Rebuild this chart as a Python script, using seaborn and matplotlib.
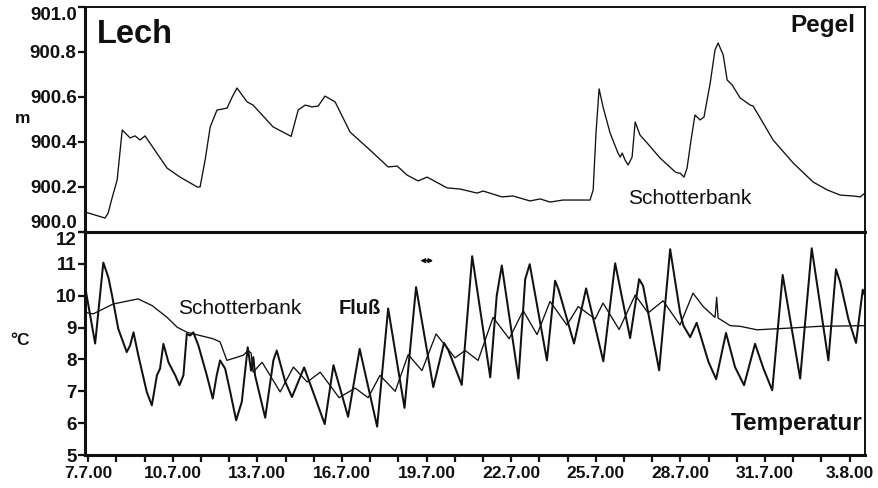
import numpy as np
import pandas as pd
import matplotlib
matplotlib.use("Agg")
import matplotlib.pyplot as plt
import seaborn as sns

# ---------------- data (x = days since 7.7.2000) ----------------
pegel_day = [-0.11, 0.60, 0.71, 0.85, 1.03, 1.21, 1.49, 1.67, 1.84, 2.02, 2.80, 3.26,
             3.87, 3.97, 4.15, 4.33, 4.57, 4.79, 4.93, 5.11, 5.28, 5.64, 5.85, 6.56,
             7.20, 7.45, 7.70, 7.94, 8.16, 8.40, 8.76, 9.29, 10.00, 10.64, 10.96, 11.31,
             11.70, 12.02, 12.73, 13.19, 13.79, 14.01, 14.68, 15.07, 15.67, 16.03, 16.38,
             16.84, 17.45, 17.80, 17.91, 18.01, 18.12, 18.26, 18.51, 18.79, 18.87, 18.94,
             19.04, 19.15, 19.29, 19.40, 19.57, 19.82, 20.28, 20.82, 20.92, 20.99, 21.13,
             21.24, 21.38, 21.52, 21.70, 21.84, 22.06, 22.23, 22.34, 22.52, 22.66, 22.84,
             23.12, 23.48, 23.58, 23.83, 24.29, 25.00, 25.71, 26.21, 26.67, 27.13, 27.38,
             27.55]
pegel_m = [900.089, 900.062, 900.084, 900.151, 900.231, 900.453, 900.418, 900.427, 900.409,
           900.427, 900.284, 900.244, 900.200, 900.200, 900.320, 900.467, 900.542, 900.547,
           900.551, 900.600, 900.640, 900.578, 900.564, 900.467, 900.425, 900.542, 900.564,
           900.556, 900.560, 900.604, 900.578, 900.444, 900.364, 900.289, 900.293, 900.253,
           900.227, 900.244, 900.196, 900.191, 900.173, 900.182, 900.156, 900.160, 900.138,
           900.147, 900.133, 900.142, 900.142, 900.142, 900.187, 900.440, 900.636, 900.556,
           900.440, 900.351, 900.333, 900.351, 900.320, 900.298, 900.333, 900.489, 900.431,
           900.396, 900.329, 900.267, 900.262, 900.262, 900.244, 900.284, 900.409, 900.520,
           900.498, 900.511, 900.662, 900.809, 900.840, 900.787, 900.676, 900.653, 900.596,
           900.564, 900.560, 900.507, 900.409, 900.307, 900.222, 900.187, 900.164, 900.160,
           900.156, 900.173]

fluss_day = [-0.11, 0.25, 0.54, 0.72, 0.84, 1.07, 1.37, 1.49, 1.61, 1.78, 2.08, 2.26, 2.44,
             2.55, 2.67, 2.85, 3.09, 3.24, 3.38, 3.50, 3.62, 3.73, 3.91, 4.21, 4.42, 4.56,
             4.68, 4.86, 5.04, 5.25, 5.45, 5.66, 5.78, 5.86, 5.92, 6.28, 6.57, 6.69, 6.99,
             7.23, 7.66, 8.01, 8.39, 8.70, 9.22, 9.63, 10.25, 10.64, 11.22, 11.63, 12.24,
             12.62, 12.77, 13.25, 13.62, 14.26, 14.49, 14.67, 15.26, 15.50, 15.66, 16.27,
             16.56, 16.68, 17.23, 17.66, 18.27, 18.69, 19.22, 19.54, 19.68, 20.25, 20.64,
             20.99, 21.11, 21.35, 21.58, 22.00, 22.27, 22.62, 22.94, 23.26, 23.65, 23.95,
             24.26, 24.63, 25.25, 25.66, 26.25, 26.52, 26.67, 26.96, 27.23, 27.47, 27.55]
fluss_c = [10.3, 8.5, 11.04, 10.57, 10.05, 8.96, 8.23, 8.44, 8.85, 8.13, 6.98, 6.56, 7.5,
           7.71, 8.49, 7.91, 7.5, 7.19, 7.5, 8.8, 8.75, 8.85, 8.44, 7.5, 6.77, 7.5,
           7.97, 7.71, 6.98, 6.09, 6.67, 8.38, 7.65, 8.07, 7.5, 6.17, 7.97, 8.28, 7.3,
           6.82, 7.75, 6.9, 5.97, 7.82, 6.2, 8.33, 5.89, 9.6, 6.48, 10.27, 7.13,
           8.52, 8.3, 7.2, 11.24, 7.44, 10.0, 10.95, 7.4, 10.52, 10.99, 7.97,
           10.47, 10.2, 8.5, 10.23, 7.94, 11.02, 8.67, 10.52, 10.31, 7.66, 11.46,
           9.48, 9.06, 8.7, 9.15, 7.92, 7.38, 8.83, 7.76, 7.19, 8.49, 7.71,
           7.03, 10.65, 7.4, 11.49, 7.97, 10.83, 10.42, 9.27, 8.52, 10.19, 10.0]

schotter_day = [-0.11, 0.18, 0.89, 1.77, 2.27, 2.80, 3.16, 3.51, 3.97, 4.43, 4.68, 4.92,
                5.50, 5.67, 5.78, 5.85, 6.17, 6.81, 7.28, 7.77, 8.23, 8.90, 9.47, 9.93,
                10.35, 10.89, 11.35, 11.84, 12.34, 13.01, 13.37, 13.83, 14.36, 14.93, 15.43,
                15.92, 16.38, 16.98, 17.38, 17.98, 18.26, 18.83, 19.40, 19.86, 20.39, 20.99,
                21.45, 21.81, 22.23, 22.29, 22.34, 22.77, 23.12, 23.72, 24.79, 25.96, 27.55]
schotter_c = [9.48, 9.43, 9.74, 9.9, 9.69, 9.32, 9.01, 8.85, 8.75, 8.65, 8.55, 7.97,
              8.13, 8.28, 8.2, 7.6, 7.91, 6.98, 7.76, 7.29, 7.6, 6.8, 7.1, 6.8,
              7.5, 7.0, 8.15, 7.65, 8.8, 8.05, 8.28, 7.97, 9.32, 8.65, 9.53,
              8.78, 9.82, 9.08, 9.66, 9.27, 9.77, 8.94, 10.02, 9.46, 9.84, 9.08,
              10.08, 9.66, 9.32, 9.95, 9.3, 9.06, 9.04, 8.93, 8.98, 9.04, 9.06]

date_labels = ["7.7.00", "10.7.00", "13.7.00", "16.7.00", "19.7.00",
               "22.7.00", "25.7.00", "28.7.00", "31.7.00", "3.8.00"]
pegel_ticks = [900.0, 900.2, 900.4, 900.6, 900.8, 901.0]
temp_ticks = [5, 6, 7, 8, 9, 10, 11, 12]

# ---------------- style ----------------
sns.set_style("ticks")
plt.rcParams["font.family"] = ["Liberation Sans", "DejaVu Sans"]
plt.rcParams["font.weight"] = "bold"

ink = "#111111"
fig = plt.figure(figsize=(8.79, 4.88), dpi=100)
ax1 = fig.add_axes([0.0967, 0.5246, 0.8874, 0.4611])
ax2 = fig.add_axes([0.0967, 0.0676, 0.8874, 0.4570])
for ax in (ax1, ax2):
    ax.set_facecolor("none")

df_p = pd.DataFrame({"day": pegel_day, "m": pegel_m})
df_f = pd.DataFrame({"day": fluss_day, "c": fluss_c})
df_s = pd.DataFrame({"day": schotter_day, "c": schotter_c})

sns.lineplot(data=df_p, x="day", y="m", ax=ax1, color=ink, lw=0.95,
             estimator=None, sort=False)
sns.lineplot(data=df_s, x="day", y="c", ax=ax2, color=ink, lw=0.95,
             estimator=None, sort=False)
sns.lineplot(data=df_f, x="day", y="c", ax=ax2, color=ink, lw=1.45,
             estimator=None, sort=False)

xmin, xmax = -0.11, 27.55
for ax in (ax1, ax2):
    ax.set_xlim(xmin, xmax)
    ax.set_xlabel("")
    ax.set_ylabel("")
    for s in ("left", "bottom"):
        ax.spines[s].set_linewidth(2.2)
    for s in ("top", "right"):
        ax.spines[s].set_linewidth(1.4)
    for s in ax.spines.values():
        s.set_color(ink)
ax2.spines["top"].set_visible(False)
ax1.spines["bottom"].set_zorder(5)

# top panel
ax1.set_ylim(900.0, 901.0)
ax1.set_yticks(pegel_ticks)
ax1.set_yticklabels([f"{v:.1f}" for v in pegel_ticks])
ax1.tick_params(axis="x", bottom=False, labelbottom=False)
ax1.tick_params(axis="y", direction="out", length=5, width=1.6, pad=1,
                labelsize=13.5, colors=ink)
labs = ax1.get_yticklabels()
labs[0].set_va("bottom")
labs[-1].set_va("top")

# bottom panel
ax2.set_ylim(5, 12)
ax2.set_yticks(temp_ticks)
ax2.set_yticklabels([str(v) for v in temp_ticks])
ax2.set_xticks(np.arange(0, 28, 3))
ax2.set_xticklabels(date_labels)
ax2.set_xticks(np.arange(0, 28, 1), minor=True)
ax2.tick_params(axis="both", which="both", direction="out", length=5, width=1.6,
                colors=ink)
ax2.tick_params(axis="y", pad=1, labelsize=13.5)
ax2.tick_params(axis="x", pad=3, labelsize=12.5)
labs2 = ax2.get_yticklabels()
labs2[-1].set_va("top")

# annotations
ax1.text(0.32, 900.84, "Lech", fontsize=23.5, fontweight="bold", color=ink,
         ha="left", va="baseline")
ax1.text(27.2, 900.889, "Pegel", fontsize=17.5, fontweight="bold", color=ink,
         ha="right", va="baseline")
ax1.text(19.15, 900.124, "Schotterbank", fontsize=15, fontweight="normal",
         color=ink, ha="left", va="baseline")
ax2.text(3.19, 9.44, "Schotterbank", fontsize=15, fontweight="normal",
         color=ink, ha="left", va="baseline")
ax2.text(8.87, 9.44, "Fluß", fontsize=14.5, fontweight="bold", color=ink,
         ha="left", va="baseline")
ax2.text(27.45, 5.78, "Temperatur", fontsize=17.5, fontweight="bold", color=ink,
         ha="right", va="baseline")
ax2.annotate("", xy=(11.78, 11.1), xytext=(12.24, 11.1),
             arrowprops=dict(arrowstyle="<|-|>", color=ink, lw=1.2,
                             mutation_scale=6, shrinkA=0, shrinkB=0))

fig.text(0.017, 0.758, "m", fontsize=12.5, fontweight="bold", color=ink,
         ha="left", va="center")
fig.text(0.012, 0.303, "°C", fontsize=12.5, fontweight="bold", color=ink,
         ha="left", va="center")

fig.savefig("out.png", dpi=100)
